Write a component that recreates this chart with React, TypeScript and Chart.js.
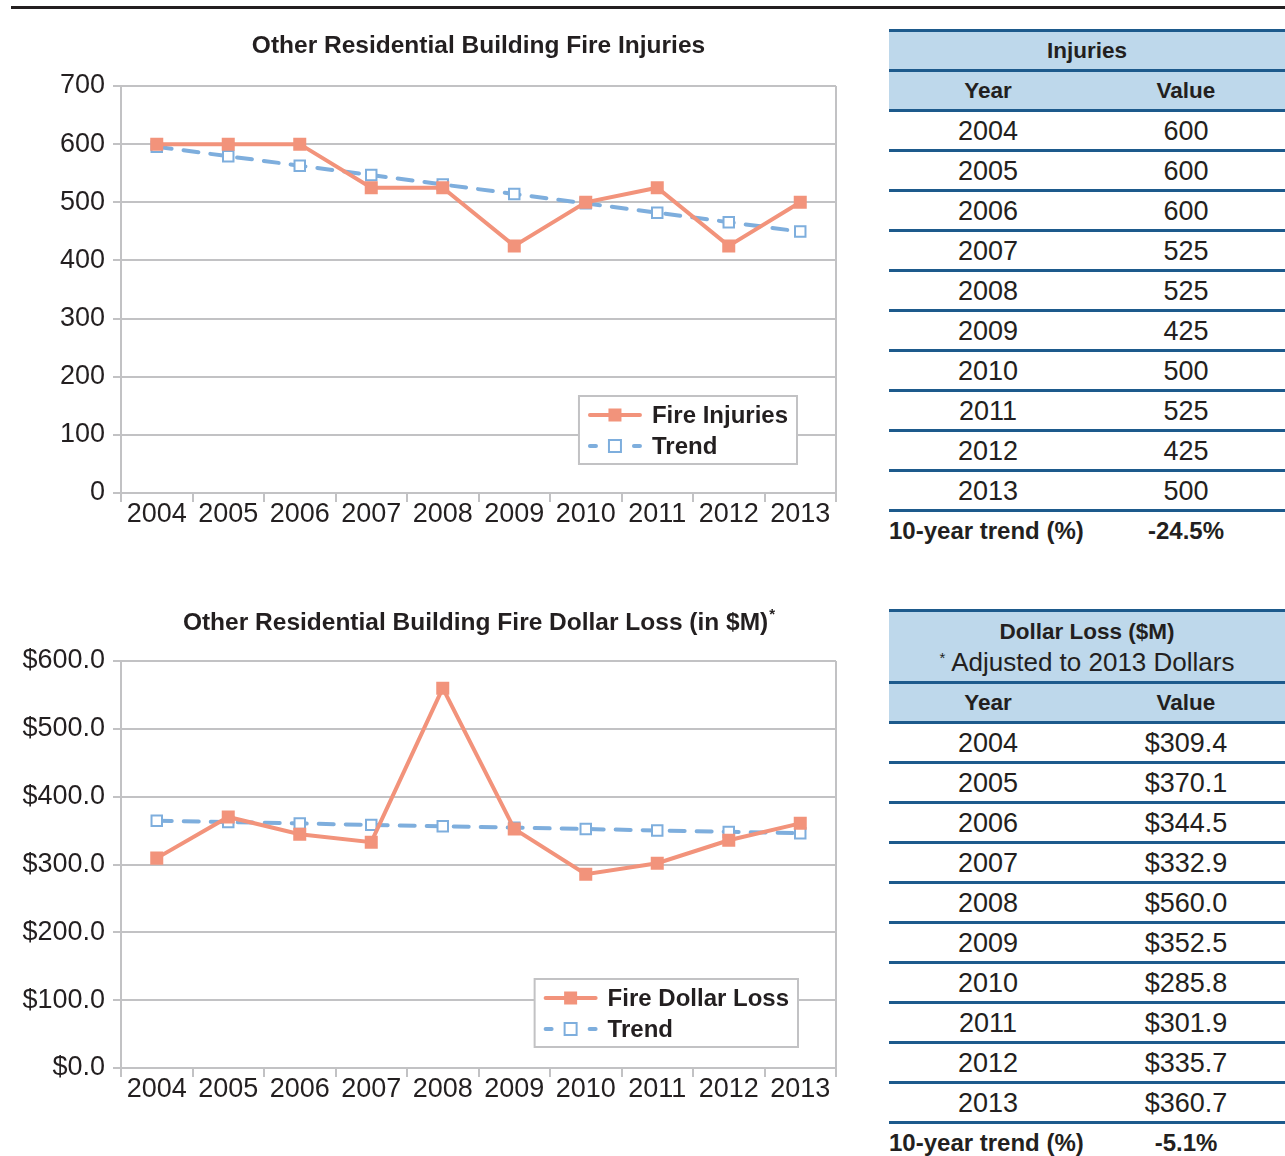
import React, { useEffect, useRef } from "react";
import { Chart, registerables } from "chart.js";

Chart.register(...registerables);

// ---------- data ----------
const YEARS = ["2004", "2005", "2006", "2007", "2008", "2009", "2010", "2011", "2012", "2013"];
const INJURIES = [600, 600, 600, 525, 525, 425, 500, 525, 425, 500];
const INJURY_TREND = [595.4, 579.2, 563.0, 546.8, 530.6, 514.4, 498.2, 482.0, 465.8, 449.6];
const DOLLAR_LOSS = [309.4, 370.1, 344.5, 332.9, 560.0, 352.5, 285.8, 301.9, 335.7, 360.7];
const LOSS_TREND = [364.6, 362.6, 360.5, 358.4, 356.4, 354.3, 352.3, 350.2, 348.1, 346.1];
const INJURY_AXIS = [0, 700, 100]; // min, max, step
const LOSS_AXIS = [0, 600, 100];
const INJURY_TREND_PCT = "-24.5%";
const LOSS_TREND_PCT = "-5.1%";

// ---------- styles ----------
const FONT = "'Liberation Sans', Arial, sans-serif";
const TEXT = "#231f20";
const GRID = "#c2c2c4";
const ORANGE = "#f2937b";
const BLUE = "#7eaedd";
const TABLE_LINE = "#1d5a8c";
const TABLE_FILL = "#bed8eb";

type ChartProps = {
  top: number;
  height: number;
  title: string;
  titleSup?: string;
  titleY: number;
  seriesName: string;
  series: number[];
  trend: number[];
  axis: number[];
  money: boolean;
  padTop: number;
  padBottom: number;
  legendRight: number;
  legendBottom: number;
};

function LineChart(p: ChartProps) {
  const ref = useRef<HTMLCanvasElement | null>(null);
  useEffect(() => {
    if (!ref.current) return;
    const overlay = {
      id: "overlay",
      afterDraw(chart: any) {
        const ctx = chart.ctx as CanvasRenderingContext2D;
        const a = chart.chartArea;
        ctx.save();
        // right border of plot
        ctx.strokeStyle = GRID;
        ctx.lineWidth = 2;
        ctx.beginPath();
        ctx.moveTo(a.right, a.top);
        ctx.lineTo(a.right, a.bottom);
        ctx.stroke();
        // title
        ctx.fillStyle = TEXT;
        ctx.font = `bold 24.5px ${FONT}`;
        ctx.textBaseline = "middle";
        ctx.textAlign = "left";
        const mainW = ctx.measureText(p.title).width;
        let supW = 0;
        if (p.titleSup) {
          ctx.font = `bold 15px ${FONT}`;
          supW = ctx.measureText(p.titleSup).width;
        }
        const cx = (a.left + a.right) / 2;
        const x0 = cx - (mainW + supW) / 2;
        ctx.font = `bold 24.5px ${FONT}`;
        ctx.fillText(p.title, x0, p.titleY);
        if (p.titleSup) {
          ctx.font = `bold 15px ${FONT}`;
          ctx.fillText(p.titleSup, x0 + mainW + 1, p.titleY - 8);
        }
        // legend
        ctx.font = `bold 24px ${FONT}`;
        const textW = ctx.measureText(p.seriesName).width;
        const sample = 54;
        const boxW = 9 + sample + 10 + textW + 9;
        const boxH = 68;
        const bx = a.right - p.legendRight - boxW;
        const by = a.bottom - p.legendBottom - boxH;
        ctx.fillStyle = "#ffffff";
        ctx.fillRect(bx, by, boxW, boxH);
        ctx.strokeStyle = GRID;
        ctx.lineWidth = 2;
        ctx.strokeRect(bx, by, boxW, boxH);
        const sx = bx + 9;
        const r1 = by + 19;
        const r2 = by + 50;
        // series sample
        ctx.strokeStyle = ORANGE;
        ctx.lineWidth = 4;
        ctx.lineCap = "round";
        ctx.beginPath();
        ctx.moveTo(sx + 2, r1);
        ctx.lineTo(sx + sample - 2, r1);
        ctx.stroke();
        ctx.fillStyle = ORANGE;
        ctx.fillRect(sx + sample / 2 - 6.5, r1 - 6.5, 13, 13);
        // trend sample
        ctx.strokeStyle = BLUE;
        ctx.beginPath();
        ctx.moveTo(sx + 2, r2);
        ctx.lineTo(sx + 8, r2);
        ctx.moveTo(sx + sample - 8, r2);
        ctx.lineTo(sx + sample - 2, r2);
        ctx.stroke();
        ctx.fillStyle = "#ffffff";
        ctx.lineWidth = 2;
        ctx.fillRect(sx + sample / 2 - 6, r2 - 6, 12, 12);
        ctx.strokeRect(sx + sample / 2 - 6, r2 - 6, 12, 12);
        // texts
        ctx.fillStyle = TEXT;
        ctx.textAlign = "left";
        ctx.textBaseline = "middle";
        ctx.font = `bold 24px ${FONT}`;
        ctx.fillText(p.seriesName, sx + sample + 10, r1 + 1);
        ctx.fillText("Trend", sx + sample + 10, r2 + 1);
        ctx.restore();
      },
    };
    const chart = new Chart(ref.current, {
      type: "line",
      data: {
        labels: YEARS,
        datasets: [
          {
            label: p.seriesName,
            data: p.series,
            borderColor: ORANGE,
            backgroundColor: ORANGE,
            borderWidth: 4,
            tension: 0,
            pointStyle: "rect",
            pointRadius: 9.2,
            pointBorderWidth: 0,
            pointBackgroundColor: ORANGE,
            pointBorderColor: ORANGE,
          },
          {
            label: "Trend",
            data: p.trend,
            borderColor: BLUE,
            borderWidth: 4,
            borderDash: [15, 12],
            borderCapStyle: "round",
            tension: 0,
            pointStyle: "rect",
            pointRadius: 7.4,
            pointBorderWidth: 2,
            pointBackgroundColor: "#ffffff",
            pointBorderColor: BLUE,
          },
        ],
      },
      options: {
        responsive: false,
        animation: false,
        devicePixelRatio: 1,
        layout: { padding: { left: 0, right: 34, top: p.padTop, bottom: p.padBottom } },
        plugins: {
          legend: { display: false },
          tooltip: { enabled: false },
          title: { display: false },
        },
        scales: {
          x: {
            type: "category",
            offset: true,
            grid: {
              offset: true,
              drawOnChartArea: false,
              drawTicks: true,
              tickLength: 9,
              color: GRID,
              lineWidth: 2,
            },
            border: { display: true, color: GRID, width: 2 },
            ticks: {
              font: { family: FONT, size: 27 },
              color: TEXT,
              padding: -4,
              maxRotation: 0,
              autoSkip: false,
            },
            afterFit: (s: any) => {
              s.height = 40;
            },
          },
          y: {
            min: p.axis[0],
            max: p.axis[1],
            ticks: {
              stepSize: p.axis[2],
              font: { family: FONT, size: 27 },
              color: TEXT,
              padding: 8,
              callback: (v: any) => (p.money ? "$" + Number(v).toFixed(1) : String(v)),
            },
            grid: { color: GRID, lineWidth: 2, drawTicks: true, tickLength: 8 },
            border: { display: true, color: GRID, width: 2 },
            afterFit: (s: any) => {
              s.width = 121;
            },
          },
        },
      },
      plugins: [overlay],
    } as any);
    return () => chart.destroy();
  }, []);
  return (
    <canvas
      ref={ref}
      width={870}
      height={p.height}
      style={{ position: "absolute", left: 0, top: p.top, width: 870, height: p.height }}
    />
  );
}

type TableProps = {
  top: number;
  header: React.ReactNode;
  headerHeight: number;
  values: string[];
  trend: string;
};

function Rule() {
  return <div style={{ height: 3, background: TABLE_LINE }} />;
}

function DataTable(t: TableProps) {
  const cell = (txt: React.ReactNode, bold: boolean, align: "center" | "left" = "center", size = 27) => (
    <div
      style={{
        width: 198,
        textAlign: align,
        fontWeight: bold ? "bold" : "normal",
        fontSize: size,
      }}
    >
      {txt}
    </div>
  );
  const row = (a: React.ReactNode, b: React.ReactNode, bg: string, bold: boolean, key: string, size = 27, alignA: "center" | "left" = "center") => (
    <div key={key} style={{ height: 37, display: "flex", alignItems: "center", background: bg, lineHeight: "38px" }}>
      {cell(a, bold, alignA, size)}
      {cell(b, bold, "center", size)}
    </div>
  );
  return (
    <div style={{ position: "absolute", left: 889, top: t.top, width: 396, color: TEXT, fontFamily: FONT }}>
      <Rule />
      <div style={{ height: t.headerHeight, background: TABLE_FILL, textAlign: "center" }}>{t.header}</div>
      <Rule />
      {row("Year", "Value", TABLE_FILL, true, "hdr", 22.5)}
      <Rule />
      {YEARS.map((y, i) => (
        <React.Fragment key={y}>
          {row(y, t.values[i], "#ffffff", false, "r" + y)}
          <Rule />
        </React.Fragment>
      ))}
      {row("10-year trend (%)", t.trend, "#ffffff", true, "trend", 24, "left")}
    </div>
  );
}

export default function App() {
  const injuryValues = INJURIES.map((v) => String(v));
  const lossValues = DOLLAR_LOSS.map((v) => "$" + v.toFixed(1));
  return (
    <div
      style={{
        position: "absolute",
        left: 0,
        top: 0,
        width: 1285,
        height: 1156,
        background: "#ffffff",
        overflow: "hidden",
        fontFamily: FONT,
      }}
    >
      <div style={{ position: "absolute", left: 11, top: 6, width: 1274, height: 2.5, background: TEXT }} />
      <LineChart
        top={0}
        height={560}
        title="Other Residential Building Fire Injuries"
        titleY={46}
        seriesName="Fire Injuries"
        series={INJURIES}
        trend={INJURY_TREND}
        axis={INJURY_AXIS}
        money={false}
        padTop={86}
        padBottom={27}
        legendRight={39}
        legendBottom={29}
      />
      <LineChart
        top={560}
        height={580}
        title="Other Residential Building Fire Dollar Loss (in $M)"
        titleSup="*"
        titleY={63}
        seriesName="Fire Dollar Loss"
        series={DOLLAR_LOSS}
        trend={LOSS_TREND}
        axis={LOSS_AXIS}
        money={true}
        padTop={101}
        padBottom={32}
        legendRight={38}
        legendBottom={21}
      />
      <DataTable
        top={29}
        headerHeight={37}
        header={<div style={{ lineHeight: "38px", fontWeight: "bold", fontSize: 22.5 }}>Injuries</div>}
        values={injuryValues}
        trend={INJURY_TREND_PCT}
      />
      <DataTable
        top={609}
        headerHeight={69}
        header={
          <div style={{ paddingTop: 4 }}>
            <div style={{ height: 31, lineHeight: "31px", fontWeight: "bold", fontSize: 22.5 }}>Dollar Loss ($M)</div>
            <div style={{ height: 31, lineHeight: "31px", fontSize: 26 }}>
              <span style={{ fontSize: 15, position: "relative", top: -8 }}>*</span> Adjusted to 2013 Dollars
            </div>
          </div>
        }
        values={lossValues}
        trend={LOSS_TREND_PCT}
      />
    </div>
  );
}
